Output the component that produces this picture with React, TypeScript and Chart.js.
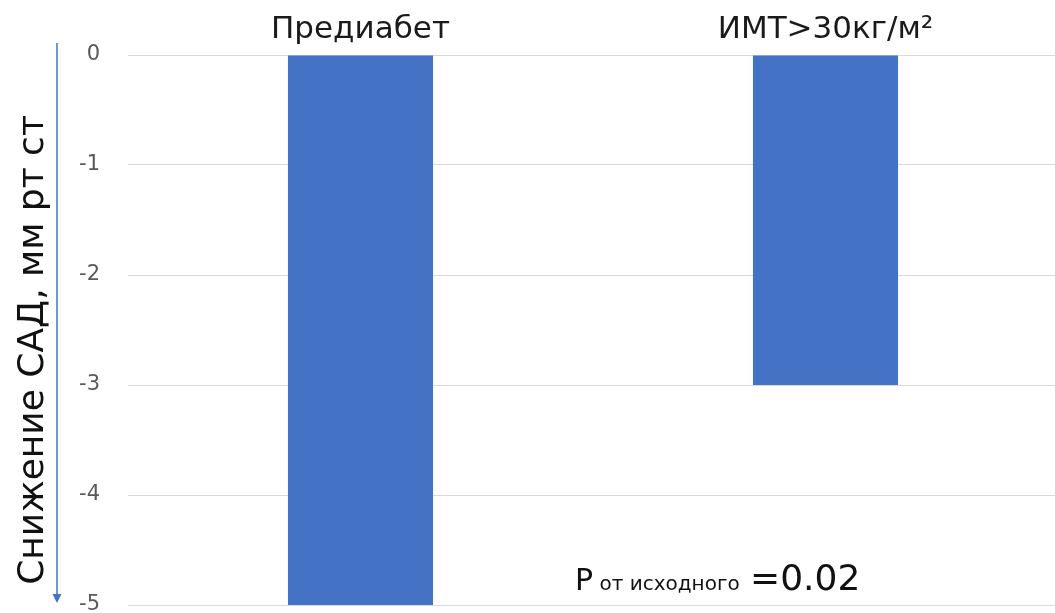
import React, { useEffect, useRef } from "react";
import { Chart, registerables } from "chart.js";

Chart.register(...registerables);

const categories: string[] = ["Предиабет", "ИМТ>30кг/м²"];
const values: number[] = [-5, -3];
const yMin = -5;
const yMax = 0;
const yStep = 1;
const yTitle = "Снижение САД, мм рт ст";
const pMain = "P";
const pSub = " от исходного ";
const pValue = "=0.02";

const FONT = "'DejaVu Sans', Verdana, sans-serif";
const BLUE = "#4472C4";

const overlayPlugin = {
  id: "overlay",
  afterDraw(chart: any) {
    const ctx: CanvasRenderingContext2D = chart.ctx;
    const area = chart.chartArea;
    const yScale = chart.scales.y;
    ctx.save();
    // axis title (rotated)
    const titleCenterY = (yScale.getPixelForValue(yMax) + yScale.getPixelForValue(yMin)) / 2 + 20;
    ctx.translate(43, titleCenterY);
    ctx.rotate(-Math.PI / 2);
    ctx.font = `36px ${FONT}`;
    ctx.fillStyle = "#111111";
    ctx.textAlign = "center";
    ctx.textBaseline = "alphabetic";
    ctx.fillText(yTitle, 0, 0);
    ctx.restore();

    // arrow
    ctx.save();
    const ax = 57;
    const top = yScale.getPixelForValue(yMax) - 12;
    const tip = yScale.getPixelForValue(yMin) - 2;
    ctx.strokeStyle = BLUE;
    ctx.lineWidth = 1.5;
    ctx.beginPath();
    ctx.moveTo(ax, top);
    ctx.lineTo(ax, tip - 6);
    ctx.stroke();
    ctx.fillStyle = BLUE;
    ctx.beginPath();
    ctx.moveTo(ax - 4.5, tip - 9);
    ctx.lineTo(ax + 4.5, tip - 9);
    ctx.lineTo(ax, tip);
    ctx.closePath();
    ctx.fill();
    ctx.restore();

    // p-value annotation
    ctx.save();
    ctx.fillStyle = "#111111";
    ctx.textBaseline = "alphabetic";
    ctx.textAlign = "left";
    let x = area.left + 447;
    const baseY = yScale.getPixelForValue(yMin) - 15;
    ctx.font = `30px ${FONT}`;
    ctx.fillText(pMain, x, baseY);
    x += ctx.measureText(pMain).width;
    ctx.font = `20px ${FONT}`;
    ctx.fillText(pSub, x, baseY);
    x += ctx.measureText(pSub).width + 4;
    ctx.font = `36px ${FONT}`;
    ctx.fillText(pValue, x, baseY);
    ctx.restore();
  },
};

export default function App() {
  const canvasRef = useRef<HTMLCanvasElement | null>(null);

  useEffect(() => {
    if (!canvasRef.current) return;
    const chart = new Chart(canvasRef.current, {
      type: "bar",
      data: {
        labels: categories,
        datasets: [
          {
            data: values,
            backgroundColor: BLUE,
            borderWidth: 0,
            categoryPercentage: 1,
            barPercentage: 0.312,
          },
        ],
      },
      options: {
        animation: false,
        responsive: false,
        maintainAspectRatio: false,
        layout: { padding: { left: 0, right: 0, top: 0, bottom: 8 } },
        plugins: {
          legend: { display: false },
          tooltip: { enabled: false },
        },
        scales: {
          x: {
            position: "top",
            grid: { display: false, drawTicks: false },
            border: { display: false },
            ticks: {
              color: "#1a1a1a",
              font: { family: FONT, size: 31 },
              padding: 6,
              maxRotation: 0,
              minRotation: 0,
            },
            afterFit(scale: any) {
              scale.height = 55;
              scale.paddingLeft = 0;
              scale.paddingRight = 0;
            },
          },
          y: {
            min: yMin,
            max: yMax,
            grid: { color: "#d9d9d9", lineWidth: 1, drawTicks: false },
            border: { display: false },
            ticks: {
              stepSize: yStep,
              color: "#595959",
              font: { family: FONT, size: 21 },
              padding: 28,
            },
            afterFit(scale: any) {
              scale.width = 128;
              scale.paddingTop = 0;
              scale.paddingBottom = 0;
            },
          },
        },
      },
      plugins: [overlayPlugin],
    });
    return () => chart.destroy();
  }, []);

  return (
    <div
      style={{
        position: "fixed",
        left: 0,
        top: 0,
        width: 1058,
        height: 613,
        overflow: "hidden",
        background: "#ffffff",
      }}
    >
      <canvas ref={canvasRef} width={1058} height={613} />
    </div>
  );
}
